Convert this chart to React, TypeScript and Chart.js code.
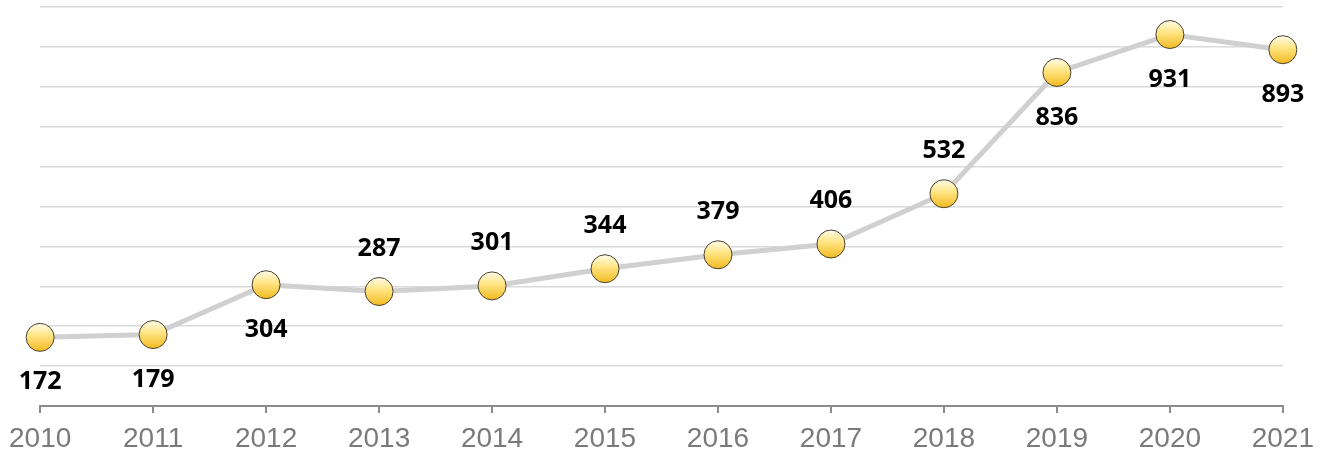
import React, { useEffect, useRef } from "react";
import { Chart, registerables } from "chart.js";

Chart.register(...registerables);

const years = ["2010", "2011", "2012", "2013", "2014", "2015", "2016", "2017", "2018", "2019", "2020", "2021"];
const values = [172, 179, 304, 287, 301, 344, 379, 406, 532, 836, 931, 893];
const labelBelow = [true, true, true, false, false, false, false, false, false, true, true, true];

const W = 1323;
const H = 457;

const labelPlugin = {
  id: "valueLabels",
  afterDatasetsDraw(chart: any) {
    const ctx = chart.ctx;
    const meta = chart.getDatasetMeta(0);
    ctx.save();
    ctx.font = "bold 25px 'Noto Sans'";
    ctx.fillStyle = "#000";
    ctx.textAlign = "center";
    ctx.textBaseline = "middle";
    meta.data.forEach((pt: any, i: number) => {
      const y = labelBelow[i] ? pt.y + 45 : pt.y - 43;
      ctx.fillText(String(values[i]), pt.x, y);
    });
    ctx.restore();
  },
};

export default function App() {
  const ref = useRef<HTMLCanvasElement>(null);
  useEffect(() => {
    const canvas = ref.current!;
    const chart = new Chart(canvas, {
      type: "line",
      data: {
        labels: years,
        datasets: [
          {
            data: values,
            borderColor: "#d0d0d0",
            borderWidth: 5,
            tension: 0,
            clip: false,
            pointRadius: 14,
            pointHoverRadius: 14,
            pointBorderWidth: 1,
            pointBorderColor: "#4a4030",
            pointBackgroundColor: (c: any) => {
              const ch = c.chart;
              const ys = ch.scales && ch.scales.y;
              const v = typeof c.raw === "number" ? c.raw : NaN;
              const py = ys && isFinite(v) ? ys.getPixelForValue(v) : NaN;
              if (!isFinite(py)) return "#fcd34d";
              const g = ch.ctx.createLinearGradient(0, py - 14, 0, py + 14);
              g.addColorStop(0, "#fffcec");
              g.addColorStop(0.4, "#ffe78a");
              g.addColorStop(1, "#f3ba20");
              return g;
            },
          },
        ],
      },
      options: {
        animation: false,
        responsive: false,
        maintainAspectRatio: false,
        layout: { autoPadding: false, padding: { left: 40, right: 39, top: 7, bottom: 0 } },
        plugins: { legend: { display: false }, tooltip: { enabled: false } },
        scales: {
          x: {
            offset: false,
            border: { display: true, color: "#8c8c8c", width: 2 },
            grid: { drawOnChartArea: false, drawTicks: true, tickLength: 7, color: "#8c8c8c", lineWidth: 2 },
            ticks: {
              color: "#7a7a7a",
              font: { family: "'Liberation Sans', Arial, sans-serif", size: 28 },
              padding: 9,
              maxRotation: 0,
              autoSkip: false,
            },
            afterFit: (s: any) => {
              s.height = H - 406;
            },
          },
          y: {
            min: 0,
            max: 1000,
            ticks: { display: false, stepSize: 100 },
            border: { display: false },
            grid: { color: "#d9d9d9", lineWidth: 1.5, drawTicks: false },
            afterFit: (s: any) => {
              s.width = 0;
            },
          },
        },
      },
      plugins: [labelPlugin],
    });
    return () => chart.destroy();
  }, []);
  return (
    <div style={{ position: "fixed", left: 0, top: 0, width: W, height: H, background: "#fff" }}>
      <canvas ref={ref} width={W} height={H} style={{ width: W, height: H, display: "block" }} />
    </div>
  );
}
